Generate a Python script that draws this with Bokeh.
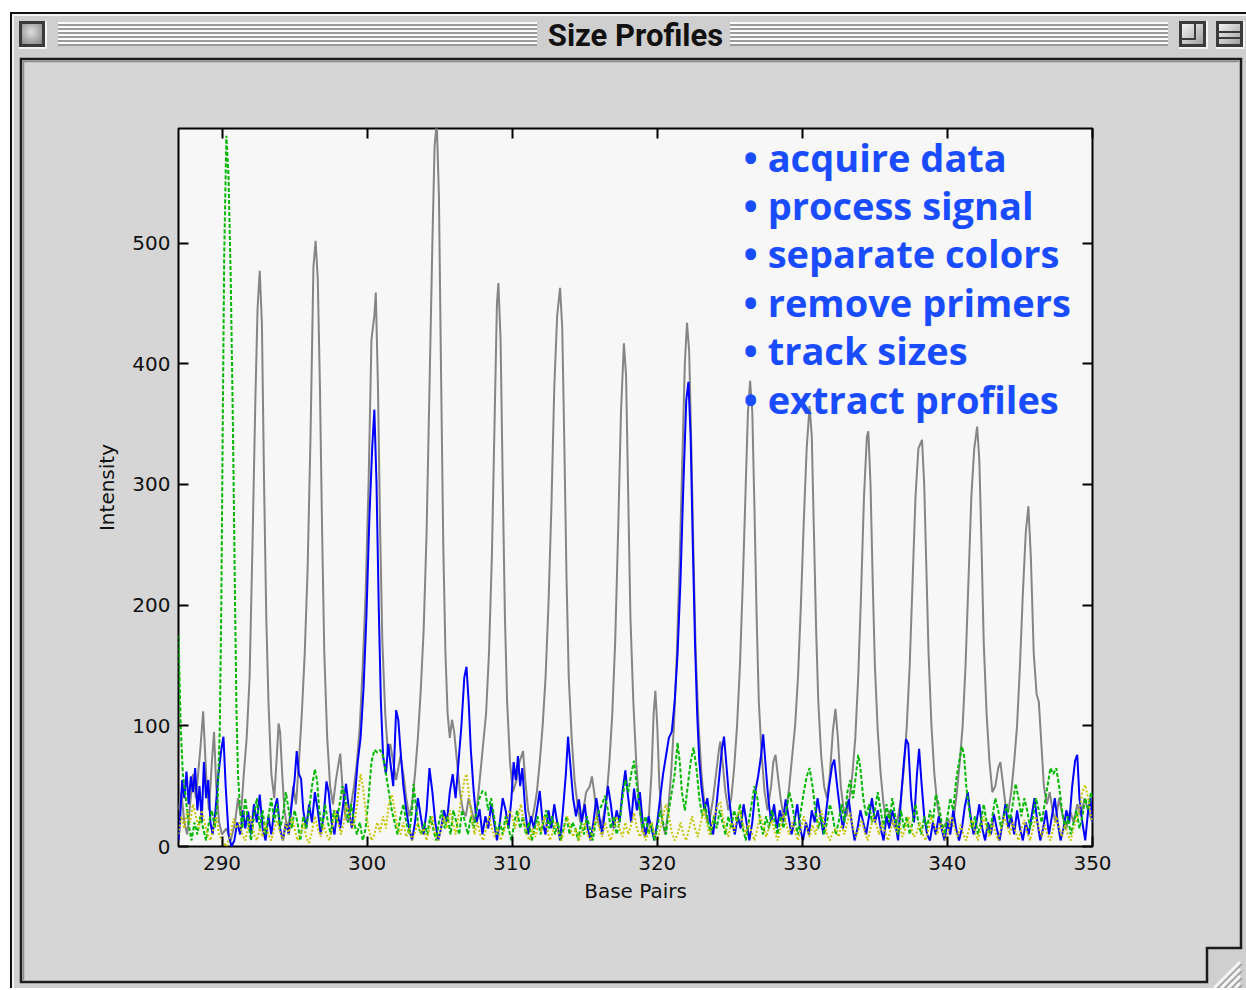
import base64
from bokeh.plotting import figure
from bokeh.models import Range1d, FixedTicker, LinearAxis
from bokeh.embed import file_html
from bokeh.resources import INLINE
from bokeh.core.properties import value

# ---------------- data ----------------
window_title = "Size Profiles"
x_label = "Base Pairs"
y_label = "Intensity"
x_ticks = [290, 300, 310, 320, 330, 340, 350]
y_ticks = [0, 100, 200, 300, 400, 500]
bullets = ["• acquire data", "• process signal", "• separate colors",
           "• remove primers", "• track sizes", "• extract profiles"]

# (base pair, intensity) vertices of each trace
gray_trace = [
    (287.0, 30), (287.2, 45), (287.4, 20), (287.6, 10), (287.8, 35), (288.0, 60), (288.2, 40), (288.5, 80),
    (288.7, 112), (288.9, 60), (289.1, 30), (289.3, 70), (289.45, 95), (289.6, 50), (289.8, 20), (290.0, 10),
    (290.3, 15), (290.6, 5), (290.9, 20), (291.1, 40), (291.3, 25), (291.5, 60), (291.7, 90), (291.9, 140),
    (292.1, 250), (292.3, 371), (292.45, 446), (292.6, 477), (292.75, 433), (292.9, 300), (293.05, 190),
    (293.2, 120), (293.4, 60), (293.6, 40), (293.8, 80), (293.9, 102), (294.0, 95), (294.15, 60), (294.3, 30),
    (294.5, 15), (294.7, 25), (294.9, 50), (295.1, 35), (295.3, 70), (295.5, 110), (295.7, 160), (295.9, 230),
    (296.1, 340), (296.3, 480), (296.45, 502), (296.6, 470), (296.75, 380), (296.9, 260), (297.05, 160),
    (297.25, 90), (297.45, 50), (297.65, 35), (297.85, 55), (298.05, 70), (298.15, 77), (298.3, 50),
    (298.5, 25), (298.7, 20), (298.9, 35), (299.1, 50), (299.3, 70), (299.5, 100), (299.7, 150), (299.9, 210),
    (300.1, 300), (300.3, 420), (300.5, 440), (300.6, 459), (300.75, 380), (300.9, 260), (301.05, 170),
    (301.25, 110), (301.45, 75), (301.6, 85), (301.8, 70), (302.0, 55), (302.3, 75), (302.5, 60), (302.7, 40),
    (302.9, 25), (303.1, 35), (303.3, 60), (303.5, 90), (303.7, 130), (303.9, 180), (304.1, 260), (304.3, 380),
    (304.5, 500), (304.65, 580), (304.8, 600), (304.95, 540), (305.1, 390), (305.25, 250), (305.4, 160),
    (305.55, 110), (305.7, 90), (305.85, 105), (306.0, 95), (306.2, 70), (306.4, 45), (306.6, 30), (306.8, 25),
    (307.0, 40), (307.2, 30), (307.4, 20), (307.6, 35), (307.8, 60), (308.0, 85), (308.2, 110), (308.4, 160),
    (308.6, 240), (308.8, 360), (308.95, 450), (309.05, 467), (309.2, 420), (309.35, 300), (309.5, 190),
    (309.65, 120), (309.85, 70), (310.05, 45), (310.3, 55), (310.5, 70), (310.75, 79), (310.9, 55), (311.1, 30),
    (311.3, 20), (311.5, 30), (311.7, 45), (311.9, 70), (312.1, 100), (312.3, 140), (312.5, 200), (312.7, 280),
    (312.9, 380), (313.1, 440), (313.3, 463), (313.45, 430), (313.6, 330), (313.75, 220), (313.9, 140),
    (314.1, 90), (314.3, 55), (314.5, 35), (314.7, 20), (314.9, 30), (315.1, 45), (315.35, 50), (315.5, 58),
    (315.65, 45), (315.85, 25), (316.05, 15), (316.3, 25), (316.5, 40), (316.7, 70), (316.9, 110), (317.1, 170),
    (317.3, 260), (317.5, 360), (317.7, 417), (317.85, 390), (318.0, 290), (318.15, 190), (318.35, 120),
    (318.55, 70), (318.75, 35), (318.95, 15), (319.15, 8), (319.4, 20), (319.6, 60), (319.75, 110),
    (319.87, 129), (320.0, 100), (320.15, 50), (320.35, 20), (320.55, 10), (320.75, 30), (320.95, 60),
    (321.15, 100), (321.35, 160), (321.55, 240), (321.75, 330), (321.9, 400), (322.05, 434), (322.2, 410),
    (322.35, 330), (322.5, 240), (322.65, 160), (322.85, 100), (323.05, 60), (323.25, 35), (323.45, 20),
    (323.65, 25), (323.85, 40), (324.05, 60), (324.25, 80), (324.35, 87), (324.5, 70), (324.7, 45), (324.9, 30),
    (325.1, 40), (325.3, 65), (325.5, 100), (325.7, 150), (325.9, 220), (326.1, 300), (326.25, 360),
    (326.4, 386), (326.55, 360), (326.7, 280), (326.85, 190), (327.0, 120), (327.2, 75), (327.4, 45),
    (327.6, 30), (327.85, 50), (328.0, 70), (328.15, 76), (328.3, 60), (328.5, 40), (328.7, 25), (328.9, 30),
    (329.1, 50), (329.3, 75), (329.5, 100), (329.7, 140), (329.9, 200), (330.1, 270), (330.3, 330),
    (330.5, 365), (330.65, 340), (330.8, 260), (330.95, 180), (331.1, 120), (331.3, 75), (331.5, 50),
    (331.7, 40), (331.9, 60), (332.1, 95), (332.28, 114), (332.45, 90), (332.65, 50), (332.85, 30),
    (333.05, 25), (333.25, 40), (333.45, 60), (333.65, 90), (333.85, 140), (334.05, 210), (334.25, 290),
    (334.45, 340), (334.55, 344), (334.7, 300), (334.85, 220), (335.0, 150), (335.2, 95), (335.4, 60),
    (335.6, 35), (335.8, 20), (336.0, 30), (336.2, 20), (336.4, 15), (336.6, 25), (336.8, 40), (337.0, 65),
    (337.2, 100), (337.4, 150), (337.6, 220), (337.8, 290), (338.0, 330), (338.25, 337), (338.4, 300),
    (338.55, 230), (338.7, 160), (338.9, 100), (339.1, 60), (339.3, 35), (339.5, 20), (339.7, 15), (339.9, 20),
    (340.07, 23), (340.25, 15), (340.45, 25), (340.65, 45), (340.85, 70), (341.05, 100), (341.25, 150),
    (341.45, 220), (341.65, 290), (341.85, 330), (342.05, 348), (342.2, 320), (342.35, 250), (342.5, 170),
    (342.7, 110), (342.9, 70), (343.1, 45), (343.3, 50), (343.5, 65), (343.65, 70), (343.8, 55), (344.0, 35),
    (344.2, 30), (344.4, 45), (344.6, 70), (344.8, 100), (345.0, 150), (345.2, 210), (345.4, 260),
    (345.58, 282), (345.75, 240), (345.95, 160), (346.15, 126), (346.3, 120), (346.45, 90), (346.65, 50),
    (346.85, 35), (347.05, 45), (347.25, 30), (347.45, 20), (347.7, 40), (347.95, 25), (348.2, 15),
    (348.45, 30), (348.7, 20), (348.95, 35), (349.2, 25), (349.45, 40), (349.7, 30), (350.0, 20),
]

blue_trace = [
    (287.0, 5), (287.1, 20), (287.25, 55), (287.4, 40), (287.55, 62), (287.7, 35), (287.85, 58), (288.0, 45),
    (288.15, 65), (288.3, 30), (288.45, 50), (288.6, 20), (288.75, 70), (288.9, 40), (289.05, 55), (289.2, 20),
    (289.35, 10), (289.55, 30), (289.75, 60), (289.95, 80), (290.1, 91), (290.25, 50), (290.45, 10),
    (290.65, 0), (290.85, 5), (291.05, 20), (291.25, 10), (291.45, 30), (291.6, 15), (291.8, 29), (292.0, 10),
    (292.2, 35), (292.4, 20), (292.6, 43), (292.8, 15), (293.0, 5), (293.2, 25), (293.4, 10), (293.6, 30),
    (293.8, 40), (294.0, 15), (294.2, 5), (294.4, 20), (294.6, 10), (294.8, 35), (295.0, 55), (295.15, 79),
    (295.3, 60), (295.45, 56), (295.6, 30), (295.8, 15), (296.0, 35), (296.2, 20), (296.4, 45), (296.6, 30),
    (296.8, 10), (297.0, 25), (297.2, 54), (297.35, 45), (297.55, 20), (297.75, 10), (297.95, 30),
    (298.15, 15), (298.35, 35), (298.55, 52), (298.75, 30), (298.95, 15), (299.15, 40), (299.35, 70),
    (299.55, 90), (299.75, 130), (299.95, 190), (300.15, 270), (300.35, 330), (300.5, 362), (300.65, 300),
    (300.8, 200), (300.95, 120), (301.1, 75), (301.3, 60), (301.45, 85), (301.6, 70), (301.8, 50),
    (302.0, 113), (302.15, 105), (302.3, 80), (302.5, 50), (302.7, 30), (302.9, 15), (303.1, 5), (303.3, 20),
    (303.5, 40), (303.7, 25), (303.9, 10), (304.1, 30), (304.3, 65), (304.5, 45), (304.7, 20), (304.9, 5),
    (305.1, 15), (305.3, 30), (305.5, 20), (305.7, 45), (305.9, 60), (306.1, 40), (306.3, 70), (306.5, 100),
    (306.7, 140), (306.85, 149), (307.0, 120), (307.15, 80), (307.35, 45), (307.55, 20), (307.75, 31),
    (307.95, 10), (308.15, 25), (308.35, 15), (308.55, 35), (308.75, 20), (308.95, 5), (309.15, 20),
    (309.35, 40), (309.55, 30), (309.75, 15), (309.95, 40), (310.1, 70), (310.25, 55), (310.4, 75),
    (310.55, 50), (310.7, 65), (310.9, 30), (311.1, 10), (311.3, 25), (311.5, 15), (311.7, 30), (311.9, 46),
    (312.1, 20), (312.3, 10), (312.5, 30), (312.7, 15), (312.9, 35), (313.1, 20), (313.3, 5), (313.5, 30),
    (313.7, 60), (313.85, 91), (314.0, 69), (314.2, 40), (314.4, 25), (314.6, 39), (314.8, 20), (315.0, 35),
    (315.2, 15), (315.4, 5), (315.6, 20), (315.8, 40), (316.0, 25), (316.2, 10), (316.4, 30), (316.6, 50),
    (316.8, 35), (317.0, 15), (317.2, 30), (317.4, 20), (317.6, 45), (317.8, 63), (318.0, 40), (318.2, 20),
    (318.4, 48), (318.6, 30), (318.8, 45), (319.0, 20), (319.2, 10), (319.4, 25), (319.6, 15), (319.8, 5),
    (320.0, 20), (320.2, 40), (320.4, 60), (320.6, 75), (320.8, 90), (321.0, 95), (321.2, 120), (321.4, 160),
    (321.6, 220), (321.8, 300), (322.0, 370), (322.15, 385), (322.3, 340), (322.45, 250), (322.6, 170),
    (322.75, 110), (322.9, 70), (323.05, 49), (323.25, 30), (323.45, 40), (323.65, 20), (323.85, 10),
    (324.05, 30), (324.25, 55), (324.45, 80), (324.6, 91), (324.75, 70), (324.95, 40), (325.15, 20),
    (325.35, 10), (325.55, 25), (325.75, 15), (325.95, 35), (326.15, 20), (326.35, 5), (326.55, 20),
    (326.75, 45), (326.95, 58), (327.15, 75), (327.3, 93), (327.45, 70), (327.65, 40), (327.85, 20),
    (328.05, 35), (328.25, 15), (328.45, 30), (328.65, 20), (328.85, 39), (329.05, 25), (329.25, 10),
    (329.45, 20), (329.65, 35), (329.85, 15), (330.05, 5), (330.25, 20), (330.45, 10), (330.65, 30),
    (330.85, 20), (331.05, 40), (331.25, 25), (331.45, 10), (331.65, 30), (331.85, 50), (332.05, 67),
    (332.2, 72), (332.4, 50), (332.6, 30), (332.8, 15), (333.0, 30), (333.2, 39), (333.4, 20), (333.6, 5),
    (333.8, 15), (334.0, 30), (334.2, 20), (334.4, 10), (334.6, 25), (334.8, 40), (335.0, 20), (335.2, 30),
    (335.4, 15), (335.6, 5), (335.8, 25), (336.0, 15), (336.2, 30), (336.4, 20), (336.6, 5), (336.8, 40),
    (337.0, 70), (337.15, 89), (337.3, 85), (337.5, 40), (337.7, 20), (337.9, 60), (338.05, 81), (338.2, 55),
    (338.4, 25), (338.6, 10), (338.8, 5), (339.0, 20), (339.2, 10), (339.4, 25), (339.6, 15), (339.8, 5),
    (340.0, 20), (340.2, 10), (340.4, 30), (340.6, 15), (340.8, 5), (341.0, 15), (341.2, 33), (341.4, 45),
    (341.6, 25), (341.8, 10), (342.0, 20), (342.2, 35), (342.4, 15), (342.6, 5), (342.8, 20), (343.0, 10),
    (343.2, 27), (343.4, 15), (343.6, 5), (343.8, 20), (344.0, 35), (344.2, 15), (344.4, 25), (344.6, 10),
    (344.8, 30), (345.0, 15), (345.2, 5), (345.4, 20), (345.6, 10), (345.8, 25), (346.0, 40), (346.2, 20),
    (346.4, 5), (346.6, 15), (346.8, 30), (347.0, 10), (347.2, 25), (347.4, 40), (347.6, 20), (347.8, 5),
    (348.0, 15), (348.2, 30), (348.4, 20), (348.6, 50), (348.8, 71), (348.95, 76), (349.1, 40), (349.3, 20),
    (349.5, 5), (349.7, 30), (349.85, 40), (350.0, 20),
]

green_trace = [
    (287.0, 175), (287.05, 150), (287.15, 100), (287.3, 60), (287.45, 45), (287.6, 30), (287.75, 15),
    (287.9, 5), (288.1, 20), (288.3, 10), (288.5, 25), (288.7, 15), (288.9, 5), (289.1, 20), (289.3, 30),
    (289.5, 15), (289.7, 40), (289.85, 100), (289.95, 200), (290.05, 350), (290.15, 489), (290.3, 589),
    (290.45, 555), (290.6, 471), (290.75, 350), (290.9, 200), (291.0, 110), (291.1, 60), (291.25, 30),
    (291.4, 15), (291.6, 40), (291.8, 20), (292.0, 5), (292.2, 25), (292.4, 40), (292.6, 15), (292.8, 30),
    (293.0, 10), (293.2, 25), (293.4, 40), (293.6, 20), (293.8, 35), (294.0, 15), (294.2, 25), (294.4, 45),
    (294.6, 30), (294.8, 15), (295.0, 30), (295.2, 20), (295.4, 5), (295.6, 25), (295.8, 15), (296.0, 30),
    (296.2, 50), (296.4, 64), (296.55, 55), (296.7, 30), (296.9, 15), (297.1, 35), (297.3, 20), (297.5, 10),
    (297.7, 30), (297.9, 20), (298.1, 35), (298.3, 50), (298.5, 40), (298.7, 20), (298.9, 35), (299.1, 20),
    (299.3, 10), (299.5, 20), (299.7, 5), (299.9, 15), (300.1, 40), (300.3, 70), (300.5, 80), (300.7, 78),
    (300.9, 80), (301.1, 75), (301.3, 60), (301.5, 45), (301.7, 30), (301.9, 20), (302.1, 10), (302.3, 25),
    (302.5, 35), (302.7, 20), (302.9, 10), (303.1, 30), (303.2, 52), (303.35, 35), (303.55, 15), (303.75, 10),
    (303.95, 20), (304.15, 10), (304.35, 25), (304.55, 15), (304.75, 5), (304.95, 20), (305.15, 30),
    (305.35, 15), (305.55, 25), (305.75, 10), (305.95, 30), (306.15, 20), (306.35, 10), (306.55, 30),
    (306.75, 20), (306.95, 10), (307.15, 25), (307.35, 15), (307.55, 30), (307.75, 40), (307.95, 46),
    (308.15, 45), (308.35, 30), (308.55, 40), (308.75, 25), (308.95, 10), (309.15, 20), (309.35, 10),
    (309.55, 25), (309.75, 15), (309.95, 5), (310.15, 20), (310.35, 30), (310.55, 15), (310.75, 25),
    (310.95, 10), (311.15, 20), (311.35, 5), (311.55, 15), (311.75, 25), (311.95, 10), (312.15, 20),
    (312.35, 30), (312.55, 15), (312.75, 25), (312.95, 10), (313.15, 20), (313.35, 5), (313.55, 15),
    (313.75, 25), (313.95, 10), (314.15, 20), (314.35, 15), (314.55, 5), (314.75, 20), (314.95, 10),
    (315.15, 25), (315.35, 15), (315.55, 5), (315.75, 20), (316.0, 30), (316.2, 35), (316.4, 42), (316.6, 30),
    (316.8, 15), (317.0, 25), (317.2, 10), (317.4, 20), (317.6, 40), (317.8, 55), (318.0, 45), (318.2, 60),
    (318.4, 71), (318.6, 50), (318.8, 30), (319.0, 15), (319.2, 25), (319.4, 10), (319.6, 20), (319.8, 5),
    (320.0, 15), (320.2, 30), (320.4, 20), (320.6, 10), (320.8, 30), (321.0, 45), (321.2, 60), (321.4, 86),
    (321.55, 70), (321.7, 45), (321.9, 30), (322.1, 50), (322.3, 70), (322.5, 82), (322.7, 65), (322.9, 40),
    (323.1, 25), (323.3, 35), (323.5, 20), (323.7, 10), (323.9, 25), (324.1, 15), (324.3, 30), (324.5, 20),
    (324.7, 10), (324.9, 25), (325.1, 15), (325.3, 30), (325.5, 20), (325.7, 35), (325.9, 15), (326.1, 5),
    (326.3, 20), (326.5, 35), (326.7, 50), (326.9, 40), (327.1, 20), (327.3, 10), (327.5, 25), (327.7, 15),
    (327.9, 30), (328.1, 20), (328.3, 10), (328.5, 25), (328.7, 15), (328.9, 30), (329.1, 45), (329.3, 35),
    (329.5, 20), (329.7, 10), (329.9, 30), (330.1, 45), (330.3, 58), (330.5, 65), (330.7, 50), (330.9, 30),
    (331.1, 15), (331.3, 25), (331.5, 10), (331.7, 20), (331.9, 35), (332.1, 25), (332.3, 10), (332.5, 20),
    (332.7, 35), (332.9, 20), (333.1, 45), (333.3, 55), (333.5, 40), (333.7, 60), (333.85, 76), (334.0, 65),
    (334.2, 40), (334.4, 25), (334.6, 35), (334.8, 20), (335.0, 30), (335.2, 45), (335.4, 30), (335.6, 15),
    (335.8, 35), (336.0, 20), (336.2, 40), (336.4, 25), (336.6, 10), (336.8, 30), (337.0, 15), (337.2, 25),
    (337.4, 10), (337.6, 20), (337.8, 35), (338.0, 20), (338.2, 10), (338.4, 25), (338.6, 15), (338.8, 30),
    (339.0, 20), (339.2, 43), (339.4, 35), (339.6, 20), (339.8, 10), (340.0, 25), (340.2, 40), (340.4, 30),
    (340.6, 55), (340.8, 70), (341.0, 83), (341.15, 75), (341.3, 50), (341.5, 30), (341.7, 15), (341.9, 25),
    (342.1, 10), (342.3, 20), (342.5, 35), (342.7, 20), (342.9, 10), (343.1, 25), (343.3, 40), (343.5, 30),
    (343.7, 15), (343.9, 25), (344.1, 35), (344.3, 20), (344.5, 35), (344.7, 52), (344.9, 40), (345.1, 25),
    (345.3, 40), (345.5, 30), (345.7, 15), (345.9, 25), (346.1, 40), (346.3, 30), (346.5, 20), (346.7, 35),
    (346.9, 50), (347.1, 65), (347.3, 60), (347.5, 65), (347.7, 50), (347.9, 30), (348.1, 15), (348.3, 25),
    (348.5, 10), (348.7, 20), (348.9, 30), (349.1, 15), (349.3, 25), (349.5, 40), (349.7, 30), (349.9, 45),
    (350.0, 40),
]

yellow_trace = [
    (287.0, 10), (287.2, 25), (287.4, 15), (287.6, 30), (287.8, 20), (288.0, 35), (288.2, 25), (288.4, 15),
    (288.6, 30), (288.8, 20), (289.0, 10), (289.2, 5), (289.4, 15), (289.6, 25), (289.8, 10), (290.0, 5),
    (290.3, 0), (290.6, 10), (290.8, 23), (291.0, 15), (291.2, 20), (291.4, 10), (291.6, 5), (291.8, 15),
    (292.0, 25), (292.2, 10), (292.4, 5), (292.6, 15), (292.8, 8), (293.0, 20), (293.2, 10), (293.4, 5),
    (293.6, 15), (293.8, 21), (294.0, 12), (294.2, 5), (294.4, 20), (294.6, 10), (294.8, 25), (295.0, 15),
    (295.2, 5), (295.4, 10), (295.6, 20), (295.8, 8), (296.0, 3), (296.2, 12), (296.4, 25), (296.6, 15),
    (296.8, 8), (297.0, 18), (297.2, 10), (297.4, 5), (297.6, 15), (297.8, 30), (298.0, 20), (298.2, 10),
    (298.4, 20), (298.6, 35), (298.8, 25), (299.0, 15), (299.2, 25), (299.4, 45), (299.55, 60), (299.7, 50),
    (299.9, 30), (300.1, 15), (300.3, 5), (300.5, 10), (300.7, 20), (300.9, 12), (301.1, 25), (301.3, 15),
    (301.5, 35), (301.7, 43), (301.9, 30), (302.1, 15), (302.3, 10), (302.5, 20), (302.7, 8), (302.9, 15),
    (303.1, 5), (303.3, 12), (303.5, 20), (303.7, 10), (303.9, 15), (304.1, 5), (304.3, 15), (304.5, 25),
    (304.7, 10), (304.9, 5), (305.1, 15), (305.3, 25), (305.5, 15), (305.7, 30), (305.9, 20), (306.1, 10),
    (306.3, 25), (306.5, 40), (306.7, 55), (306.85, 60), (307.0, 45), (307.2, 25), (307.4, 10), (307.6, 20),
    (307.8, 10), (308.0, 5), (308.2, 15), (308.4, 25), (308.6, 15), (308.8, 8), (309.0, 15), (309.2, 5),
    (309.4, 12), (309.6, 20), (309.8, 30), (310.0, 25), (310.2, 15), (310.4, 25), (310.6, 35), (310.8, 20),
    (311.0, 10), (311.2, 5), (311.4, 15), (311.6, 8), (311.8, 20), (312.0, 12), (312.2, 25), (312.4, 15),
    (312.6, 5), (312.8, 12), (313.0, 20), (313.2, 10), (313.4, 5), (313.6, 15), (313.8, 25), (314.0, 15),
    (314.2, 8), (314.4, 15), (314.6, 5), (314.8, 12), (315.0, 20), (315.2, 10), (315.4, 5), (315.6, 15),
    (315.8, 25), (316.0, 15), (316.2, 8), (316.4, 20), (316.6, 12), (316.8, 5), (317.0, 15), (317.2, 25),
    (317.4, 15), (317.6, 8), (317.8, 20), (318.0, 10), (318.2, 18), (318.4, 28), (318.6, 15), (318.8, 8),
    (319.0, 15), (319.2, 5), (319.4, 12), (319.6, 20), (319.8, 10), (320.0, 5), (320.2, 15), (320.4, 25),
    (320.6, 35), (320.8, 25), (321.0, 12), (321.2, 5), (321.4, 10), (321.6, 20), (321.8, 10), (322.0, 5),
    (322.2, 15), (322.4, 25), (322.6, 15), (322.8, 8), (323.0, 20), (323.2, 30), (323.4, 20), (323.6, 10),
    (323.8, 20), (324.0, 28), (324.2, 35), (324.35, 37), (324.5, 25), (324.7, 15), (324.9, 8), (325.1, 20),
    (325.3, 12), (325.5, 25), (325.7, 30), (325.9, 18), (326.1, 10), (326.3, 20), (326.5, 12), (326.7, 5),
    (326.9, 15), (327.1, 25), (327.3, 18), (327.5, 8), (327.7, 15), (327.9, 22), (328.1, 12), (328.3, 5),
    (328.5, 15), (328.7, 28), (328.9, 18), (329.1, 10), (329.3, 20), (329.5, 12), (329.7, 5), (329.9, 15),
    (330.1, 25), (330.3, 15), (330.5, 8), (330.7, 18), (330.9, 10), (331.1, 20), (331.3, 30), (331.5, 20),
    (331.7, 10), (331.9, 5), (332.1, 12), (332.3, 15), (332.5, 8), (332.7, 18), (332.9, 10), (333.1, 20),
    (333.3, 28), (333.5, 15), (333.7, 8), (333.9, 15), (334.1, 22), (334.3, 12), (334.5, 5), (334.7, 15),
    (334.9, 25), (335.1, 18), (335.3, 10), (335.5, 20), (335.7, 12), (335.9, 5), (336.1, 15), (336.3, 22),
    (336.5, 12), (336.7, 18), (336.9, 8), (337.1, 15), (337.3, 25), (337.5, 15), (337.7, 8), (337.9, 12),
    (338.1, 20), (338.3, 10), (338.5, 5), (338.7, 15), (338.9, 25), (339.1, 18), (339.3, 10), (339.5, 20),
    (339.7, 12), (339.9, 5), (340.1, 15), (340.3, 25), (340.5, 15), (340.7, 8), (340.9, 18), (341.1, 10),
    (341.3, 5), (341.5, 15), (341.7, 22), (341.9, 12), (342.1, 5), (342.3, 15), (342.5, 25), (342.7, 15),
    (342.9, 8), (343.1, 20), (343.3, 12), (343.5, 5), (343.7, 15), (343.9, 25), (344.1, 18), (344.3, 10),
    (344.5, 20), (344.7, 12), (344.9, 5), (345.1, 15), (345.3, 22), (345.5, 12), (345.7, 5), (345.9, 15),
    (346.1, 25), (346.3, 15), (346.5, 8), (346.7, 18), (346.9, 10), (347.1, 5), (347.3, 15), (347.5, 25),
    (347.7, 15), (347.9, 8), (348.1, 18), (348.3, 10), (348.5, 5), (348.7, 15), (348.9, 22), (349.1, 30),
    (349.3, 45), (349.5, 51), (349.7, 40), (349.9, 25), (350.0, 20),
]

# ---------------- layout constants ----------------
W, H = 1246, 988          # figure size (page drawn from its top-left corner)
FL, FT = 178, 128         # frame left / top
FW, FH = 914, 718         # frame width / height
X0, X1 = 287, 350
Y0, Y1 = 0, 595
PX_PER_Y = FH / (Y1 - Y0)


def px_to_x(px):          # page pixel -> data x
    return X0 + (px - FL) * (X1 - X0) / FW


def py_to_y(py):          # page pixel -> data y
    return Y0 + (FT + FH - py) / PX_PER_Y


# window chrome painted as a CSS background behind the transparent canvas
stripes = ""
for i in range(6):
    yy = 22 + 4 * i
    for xa, xb in ((58, 537), (730, 1168)):
        stripes += f'<rect x="{xa}" y="{yy}" width="{xb - xa}" height="2" fill="#fbfbfb"/>'
        stripes += f'<rect x="{xa}" y="{yy + 2}" width="{xb - xa}" height="2" fill="#9a9a9a"/>'

grow = ""
for k in range(4):
    o = 7 * k
    grow += (f'<line x1="{1214 + o}" y1="988" x2="1240" y2="{962 + o}" '
             f'stroke="#f6f6f6" stroke-width="2.5"/>')
    grow += (f'<line x1="{1217 + o}" y1="989" x2="1242" y2="{964 + o}" '
             f'stroke="#9c9c9c" stroke-width="1.5"/>')

chrome_svg = f'''<svg xmlns="http://www.w3.org/2000/svg" width="{W}" height="{H}" viewBox="0 0 {W} {H}">
<defs>
<radialGradient id="cb" cx="0.45" cy="0.4" r="0.7"><stop offset="0" stop-color="#dedede"/><stop offset="1" stop-color="#8e8e8e"/></radialGradient>
<linearGradient id="bx" x1="0" y1="0" x2="1" y2="1"><stop offset="0" stop-color="#f2f2f2"/><stop offset="1" stop-color="#a0a0a0"/></linearGradient>
</defs>
<rect x="0" y="0" width="1300" height="1100" fill="#ffffff"/>
<rect x="10" y="12" width="1290" height="1000" fill="#cfcfcf"/>
<rect x="10" y="12" width="1290" height="2" fill="#111111"/>
<rect x="10" y="12" width="2" height="1000" fill="#111111"/>
<rect x="12" y="14" width="1290" height="2" fill="#f4f4f4"/>
<rect x="12" y="14" width="2" height="1000" fill="#f4f4f4"/>
{stripes}
<rect x="19" y="21" width="28" height="28" fill="#f4f4f4"/>
<rect x="19" y="21" width="26" height="26" fill="#3a3a3a"/>
<rect x="22" y="24" width="20" height="20" fill="url(#cb)"/>
<rect x="1179" y="21" width="29" height="28" fill="#f4f4f4"/>
<rect x="1179" y="21" width="27" height="26" fill="#3a3a3a"/>
<rect x="1182" y="24" width="21" height="20" fill="url(#bx)"/>
<path d="M1182,39 H1195 V24" stroke="#3a3a3a" stroke-width="2" fill="none"/>
<rect x="1216" y="21" width="29" height="28" fill="#f4f4f4"/>
<rect x="1216" y="21" width="27" height="26" fill="#3a3a3a"/>
<rect x="1219" y="24" width="21" height="20" fill="url(#bx)"/>
<rect x="1219" y="31" width="21" height="2" fill="#3a3a3a"/>
<rect x="1219" y="37" width="21" height="2" fill="#3a3a3a"/>
<path d="M21,59 H1241 V948 H1207 V982 H21 Z" fill="#d6d6d6" stroke="#1c1c1c" stroke-width="2.5"/>
<path d="M23.5,980 V61.5 H1239" stroke="#8c8c8c" stroke-width="1.5" fill="none"/>
{grow}
</svg>'''
chrome_b64 = base64.b64encode(chrome_svg.encode("utf-8")).decode("ascii")

p = figure(width=W, height=H, output_backend="svg", toolbar_location=None,
           x_range=Range1d(X0, X1), y_range=Range1d(Y0, Y1),
           min_border_left=FL, min_border_top=FT,
           min_border_right=W - FL - FW, min_border_bottom=H - FT - FH,
           x_axis_label=x_label, y_axis_label=y_label,
           styles={"background-image": f"url('data:image/svg+xml;base64,{chrome_b64}')",
                   "background-repeat": "no-repeat",
                   "background-size": f"{W}px {H}px"})
p.border_fill_alpha = 0
p.background_fill_color = "#f7f7f7"
p.outline_line_color = "#000000"
p.outline_line_width = 2
p.grid.visible = False

# box axes on top (inward ticks; a blank axis label keeps the window title up in the title bar)
top_ax = LinearAxis(ticker=FixedTicker(ticks=x_ticks), major_tick_in=10, major_tick_out=0,
                    minor_tick_line_color=None, major_tick_line_width=2,
                    major_tick_line_color="#000000", axis_line_color=None,
                    major_label_text_color=None, major_label_standoff=0,
                    axis_label=" ", axis_label_standoff=0,
                    axis_label_text_font="DejaVu Sans", axis_label_text_font_size="60px")
p.add_layout(top_ax, "above")
right_ax = LinearAxis(ticker=FixedTicker(ticks=y_ticks), major_tick_in=10, major_tick_out=0,
                      minor_tick_line_color=None, major_tick_line_width=2,
                      major_tick_line_color="#000000", axis_line_color=None,
                      major_label_text_color=None)
p.add_layout(right_ax, "right")

# window title (figure title, in the border above the frame)
p.title.text = window_title
p.title.align = "center"
p.title.text_font = "Roboto"
p.title.text_font_style = "bold"
p.title.text_font_size = "31px"
p.title.text_color = "#111111"
p.title.standoff = 4

TICK_FONT = "DejaVu Sans"
for ax in [p.below[0], p.left[0]]:
    ax.major_tick_in = 10
    ax.major_tick_out = 0
    ax.minor_tick_line_color = None
    ax.major_tick_line_width = 2
    ax.major_tick_line_color = "#000000"
    ax.axis_line_color = None
    ax.major_label_text_font = TICK_FONT
    ax.major_label_text_font_size = "20px"
    ax.major_label_text_color = "#111111"
    ax.axis_label_text_font = TICK_FONT
    ax.axis_label_text_font_size = "20px"
    ax.axis_label_text_font_style = "normal"
    ax.axis_label_text_color = "#111111"
p.below[0].ticker = FixedTicker(ticks=x_ticks)
p.left[0].ticker = FixedTicker(ticks=y_ticks)
p.below[0].major_label_standoff = 9
p.below[0].axis_label_standoff = 6
p.left[0].major_label_standoff = 8
p.left[0].axis_label_standoff = 10

# traces
series = [
    (gray_trace, dict(line_color="#858585", line_width=2)),
    (blue_trace, dict(line_color="#0000ff", line_width=2)),
    (green_trace, dict(line_color="#00b800", line_width=2, line_dash="4 2")),
    (yellow_trace, dict(line_color="#c4c400", line_width=2, line_dash="2 2")),
]
for trace, style in series:
    xs = [t[0] for t in trace]
    ys = [t[1] for t in trace]
    p.line(xs, ys, **style)

# bullet list
bx = px_to_x(743)
by = [py_to_y(156 + 48.4 * i) for i in range(len(bullets))]
p.text(x=[bx] * len(bullets), y=by, text=bullets,
       text_font=value("Open Sans"), text_font_style="bold", text_font_size="38px",
       text_color="#1a4cff", text_align="left", text_baseline="alphabetic")

open("out.html", "w").write(file_html(p, INLINE))
